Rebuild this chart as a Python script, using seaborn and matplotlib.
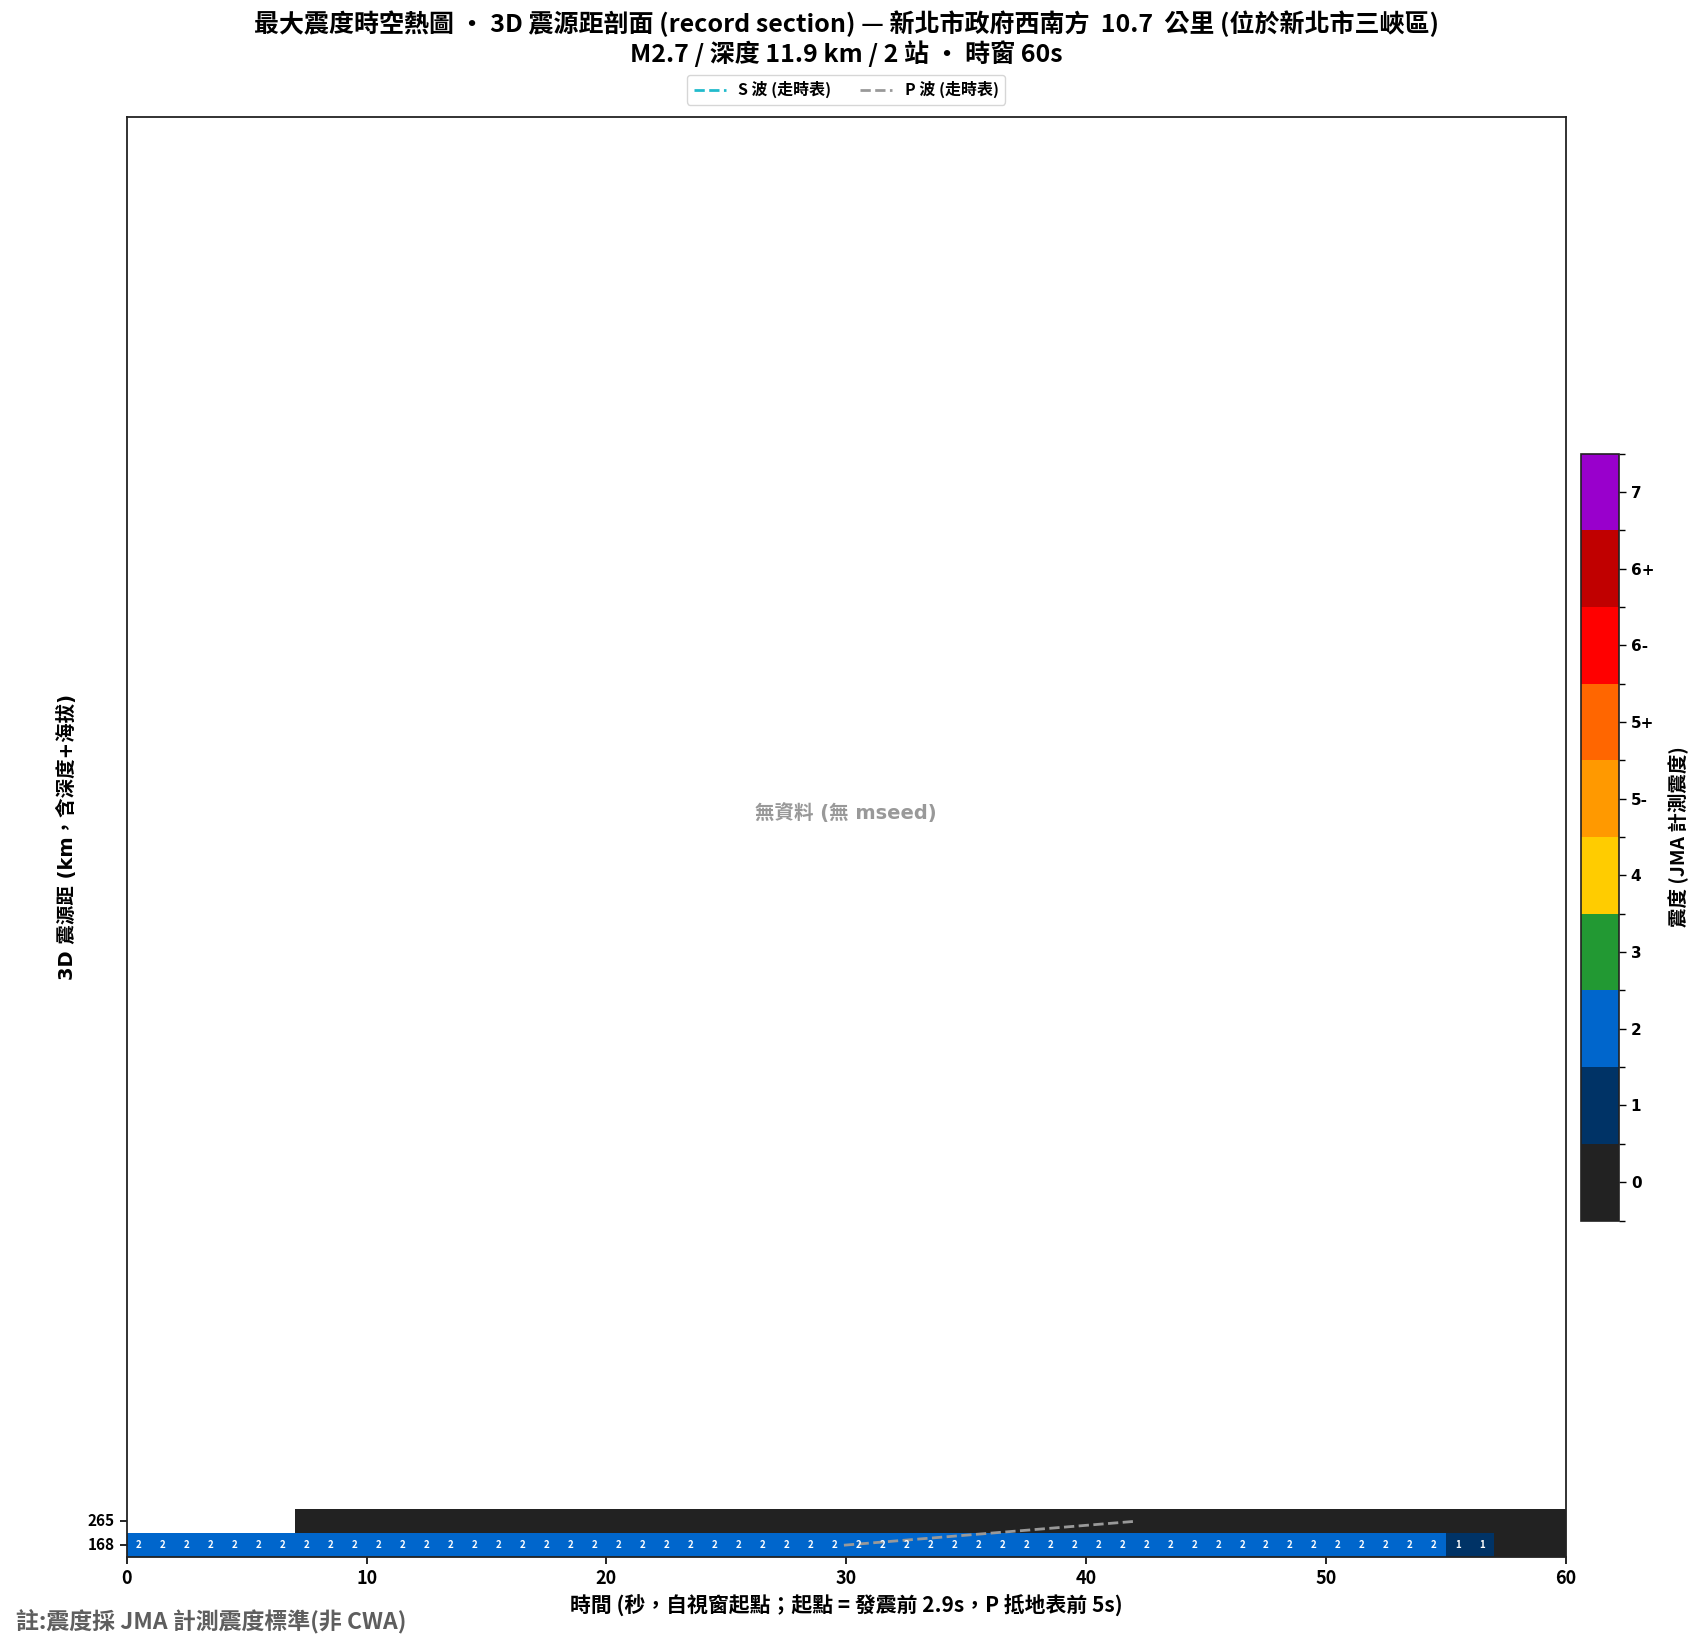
import numpy as np
import pandas as pd
import seaborn as sns
import matplotlib.pyplot as plt
from matplotlib.colors import ListedColormap, BoundaryNorm
from matplotlib.lines import Line2D

# Data
station_dist = ['168', '265']          # 3D hypocentral distance (km), bottom to top
n_sec = 60
row_168 = [2] * 55 + [1] * 2 + [0] * 3
row_265 = [np.nan] * 7 + [0] * 53
p_time = [29.9, 42.1]                  # P travel-time curve (s) per station row
s_time = []                            # S curve falls outside the window

level_labels = ['0', '1', '2', '3', '4', '5-', '5+', '6-', '6+', '7']
level_colors = ['#222222', '#003366', '#0066CC', '#229933', '#FFCC00',
                '#FF9900', '#FF6600', '#FF0000', '#C00000', '#9900CC']

title_font = ['Noto Sans CJK TC', 'DejaVu Sans']
latin_font = ['DejaVu Sans', 'Noto Sans CJK TC']
plt.rcParams['font.family'] = title_font
plt.rcParams['font.weight'] = 'bold'
plt.rcParams['axes.labelweight'] = 'bold'
plt.rcParams['axes.unicode_minus'] = False

W, H = 1698, 1648
fig = plt.figure(figsize=(W / 100, H / 100), dpi=100)
ax = fig.add_axes([126.7 / W, 1 - 1557.2 / H, 1439.2 / W, 1440.2 / H])
cax = fig.add_axes([1581 / W, 1 - 1220.5 / H, 38 / W, 766.8 / H])

df = pd.DataFrame([row_168, row_265], index=station_dist, columns=range(n_sec))
annot = df.map(lambda v: '' if (pd.isna(v) or v == 0) else level_labels[int(v)])

cmap = ListedColormap(level_colors)
norm = BoundaryNorm(np.arange(-0.5, 10.5, 1), cmap.N)

sns.heatmap(df, ax=ax, cbar_ax=cax, cmap=cmap, norm=norm,
            annot=annot.values, fmt='', xticklabels=False, yticklabels=True,
            annot_kws={'fontsize': 7, 'fontweight': 'bold', 'color': 'white'})

# record section axes: rows stacked from the bottom
ax.set_ylim(0, 60)
ax.set_xlim(0, n_sec)
ax.set_yticks([0.5, 1.5])
ax.set_yticklabels(station_dist, rotation=0, fontsize=11)
ax.set_xticks(range(0, 61, 10))
ax.set_xticklabels([str(t) for t in range(0, 61, 10)], rotation=0, fontsize=13)
ax.tick_params(length=5, width=1.2)
for s in ax.spines.values():
    s.set_visible(True)
    s.set_linewidth(1.3)
    s.set_color('#222222')

ax.plot(p_time, [0.5, 1.5], ls='--', color='#999999', lw=2)
ax.plot(s_time, [0.5, 1.5][:len(s_time)], ls='--', color='#22BBCC', lw=2)

handles = [Line2D([], [], ls='--', color='#22BBCC', lw=2, label='S 波 (走時表)'),
           Line2D([], [], ls='--', color='#999999', lw=2, label='P 波 (走時表)')]
ax.legend(handles=handles, loc='lower center', bbox_to_anchor=(0.5, 1.003),
          ncol=2, fontsize=11.5, handlelength=2, columnspacing=1.8, frameon=True)

ax.text(0.5, 0.517, '無資料 (無 mseed)', transform=ax.transAxes, ha='center',
        va='center', fontsize=14, color='#999999', family=latin_font)

ax.set_xlabel('時間 (秒，自視窗起點；起點 = 發震前 2.9s，P 抵地表前 5s)', fontsize=15, labelpad=5)
ax.set_ylabel('3D 震源距 (km，含深度+海拔)', fontsize=14, family=latin_font, labelpad=8)

fig.text(846 / W, 1 - 10 / H,
         '最大震度時空熱圖 • 3D 震源距剖面 (record section) — 新北市政府西南方  10.7  公里 (位於新北市三峽區)\n'
         'M2.7 / 深度 11.9 km / 2 站 • 時窗 60s',
         ha='center', va='top', fontsize=18, linespacing=1.18)

fig.text(16 / W, 1 - 1621 / H, '註:震度採 JMA 計測震度標準(非 CWA)', ha='left',
         va='center', fontsize=16.5, color='#5e5e5e')

# colorbar
cb = ax.collections[0].colorbar
cb.set_ticks(range(10))
cb.set_ticklabels(level_labels)
cb.ax.set_yticks(np.arange(-0.5, 10.5, 1), minor=True)
cb.ax.tick_params(labelsize=11, length=5, width=1)
cb.ax.tick_params(which='minor', length=4, width=1)
for t in cb.ax.get_yticklabels():
    t.set_family(latin_font)
cb.outline.set_linewidth(1.2)
cb.outline.set_edgecolor('#222222')
cb.set_label('震度 (JMA 計測震度)', fontsize=14, labelpad=10)

fig.savefig('out.png', dpi=100)
